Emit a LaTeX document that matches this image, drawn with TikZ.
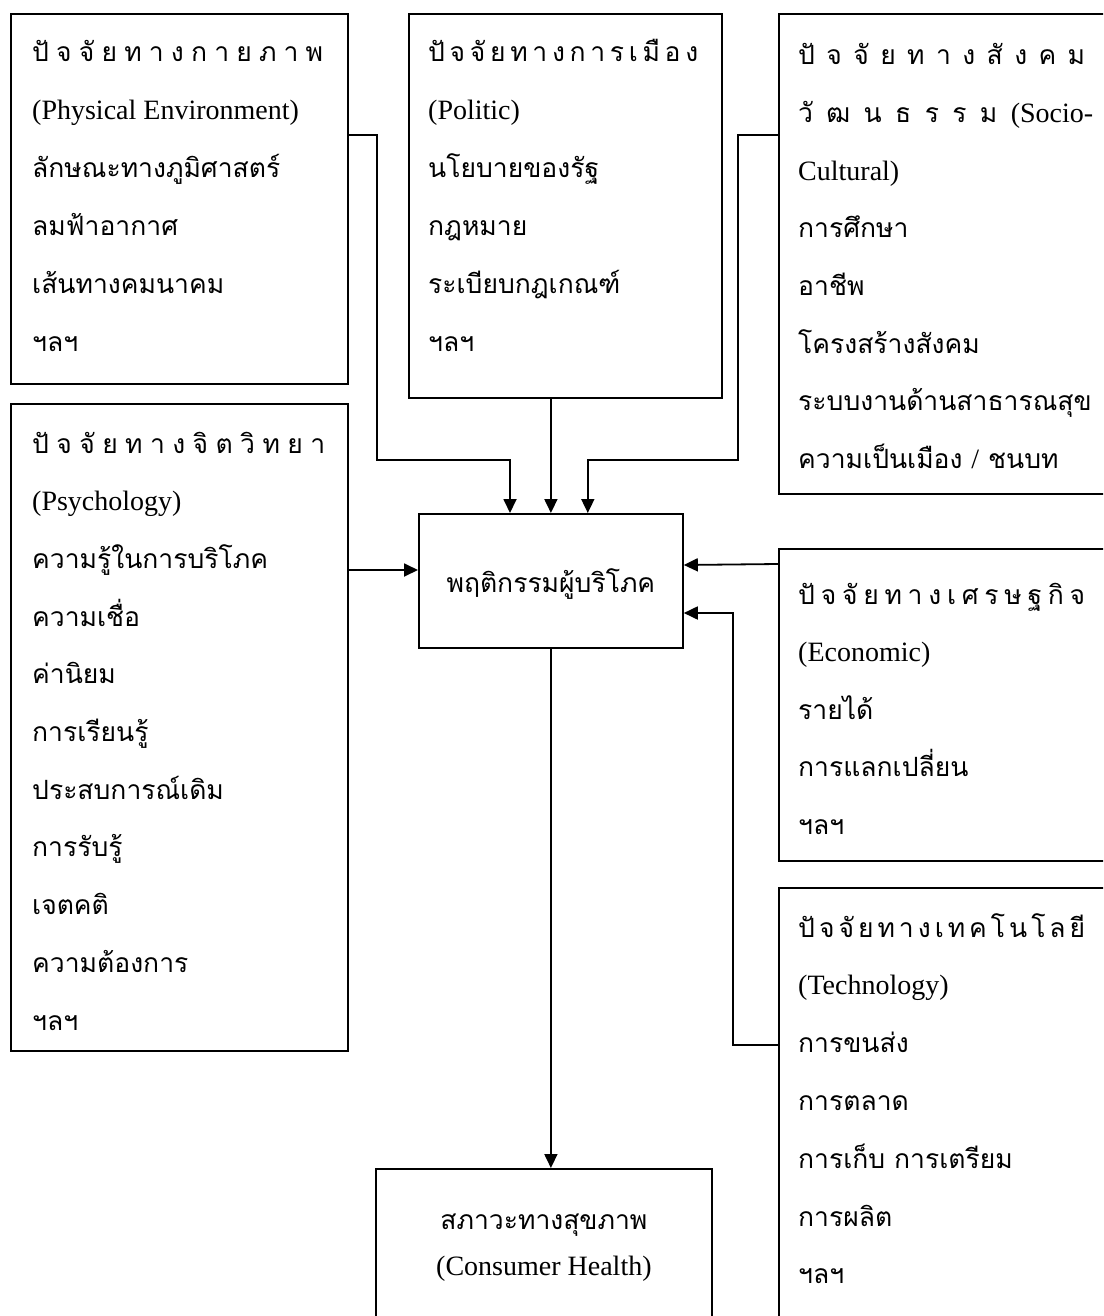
\documentclass[tikz,border=0pt]{standalone}
\usepackage{fontspec}
\setmainfont{Liberation Serif}
\newfontfamily\thaifont[Script=Thai]{Loma}
\usetikzlibrary{calc,arrows.meta}
\tikzset{>={Triangle[length=14pt,width=13pt]}}
\tikzset{
  factor/.style={draw,line width=1.8pt,anchor=north west,inner sep=0},
  item/.style={anchor=base west,inner sep=0,font=\thaifont\fontsize{26.5}{32}\selectfont},
  link/.style={line width=1.8pt},
}
\newcommand\eng[1]{{\rmfamily\fontsize{28}{34}\selectfont #1}}
\newcommand\spread[2]{\makebox[#1][s]{\spaceskip=0pt plus 1fil #2}}

\begin{document}
\begin{tikzpicture}[x=1pt,y=-1pt]
  \useasboundingbox (0,0) rectangle (1103,1316);
  \clip (0,0) rectangle (1103,1316);
  % factor boxes
  \node[factor,minimum width=337pt,minimum height=370pt] (phys) at (10,13) {};
  \node[factor,minimum width=313pt,minimum height=384pt] (pol) at (408,13) {};
  \node[factor,minimum width=400pt,minimum height=480pt] (soc) at (778,13) {};
  \node[factor,minimum width=337pt,minimum height=647pt] (psy) at (10,403) {};
  \node[factor,minimum width=400pt,minimum height=312pt] (eco) at (778,548) {};
  \node[factor,minimum width=400pt,minimum height=500pt] (tech) at (778,887) {};
  \node[factor,minimum width=264pt,minimum height=134pt] (cons) at (418,513) {};
  \node[factor,minimum width=336pt,minimum height=200pt] (hlth) at (375,1168) {};

  % box texts
  \foreach \t [count=\i from 0] in {
      {\spread{291pt}{ปั จ จั ย ท า ง ก า ย ภ า พ}},
      {\eng{(Physical Environment)}},
      ลักษณะทางภูมิศาสตร์, ลมฟ้าอากาศ, เส้นทางคมนาคม, ฯลฯ}
    \node[item] (phys-\i) at ($(phys.north west)+(22,{49+57.8*\i})$) {\t};
  \foreach \t [count=\i from 0] in {
      {\spread{270pt}{ปั จ จั ย ท า ง ก า ร เ มื อ ง}},
      {\eng{(Politic)}},
      นโยบายของรัฐ, กฎหมาย, ระเบียบกฎเกณฑ์, ฯลฯ}
    \node[item] (pol-\i) at ($(pol.north west)+(20,{49+57.8*\i})$) {\t};
  \foreach \t [count=\i from 0] in {
      {\spread{287pt}{ปั จ จั ย ท า ง สั ง ค ม}},
      {\spread{295pt}{วั ฒ น ธ ร ร ม \eng{(Socio-}}},
      {\eng{Cultural)}},
      การศึกษา, อาชีพ, โครงสร้างสังคม, ระบบงานด้านสาธารณสุข,
      {ความเป็นเมือง \eng{/} ชนบท}}
    \node[item] (soc-\i) at ($(soc.north west)+(20,{52+57.6*\i})$) {\t};
  \foreach \t [count=\i from 0] in {
      {\spread{293pt}{ปั จ จั ย ท า ง จิ ต วิ ท ย า}},
      {\eng{(Psychology)}},
      ความรู้ในการบริโภค, ความเชื่อ, ค่านิยม, การเรียนรู้, ประสบการณ์เดิม,
      การรับรู้, เจตคติ, ความต้องการ, ฯลฯ}
    \node[item] (psy-\i) at ($(psy.north west)+(22,{50+57.7*\i})$) {\t};
  \foreach \t [count=\i from 0] in {
      {\spread{287pt}{ปั จ จั ย ท า ง เ ศ ร ษ ฐ กิ จ}},
      {\eng{(Economic)}},
      รายได้, การแลกเปลี่ยน, ฯลฯ}
    \node[item] (eco-\i) at ($(eco.north west)+(20,{56+57.5*\i})$) {\t};
  \foreach \t [count=\i from 0] in {
      {\spread{287pt}{ปั จ จั ย ท า ง เ ท ค โ น โ ล ยี}},
      {\eng{(Technology)}},
      การขนส่ง, การตลาด, การเก็บ การเตรียม, การผลิต, ฯลฯ}
    \node[item] (tech-\i) at ($(tech.north west)+(20,{50+57.8*\i})$) {\t};
  \node[item,anchor=base] (cons-0) at ($(cons.north)+(0,79)$) {พฤติกรรมผู้บริโภค};
  \node[item,anchor=base] (hlth-0) at ($(hlth.north)+(0,61)$) {สภาวะทางสุขภาพ};
  \node[item,anchor=base] (hlth-1) at ($(hlth.north)+(0,107)$) {\eng{(Consumer Health)}};

  % connectors
  \draw[link,->] ($(phys.north east)+(0,122)$) -| ++(28,325) -| ($(cons.north west)+(92,0)$);
  \draw[link,->] (cons.north |- pol.south) -- (cons.north);
  \draw[link,->] ($(soc.north west)+(0,122)$) -| ++(-40,325) -| ($(cons.north east)+(-96,0)$);
  \draw[link,->] ($(psy.north east)+(0,167)$) -- ($(cons.north west)+(0,57)$);
  \draw[link,->] ($(eco.north west)+(0,16)$) -- ($(cons.north east)+(0,52)$);
  \draw[link,->] ($(tech.north west)+(0,158)$) -| ($(cons.north east)+(49,100)$) -- ($(cons.north east)+(0,100)$);
  \draw[link,->] (cons.south) -- (cons.south |- hlth.north);
\end{tikzpicture}
\end{document}
